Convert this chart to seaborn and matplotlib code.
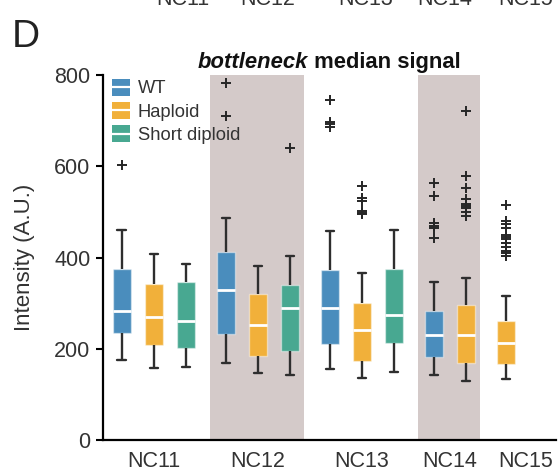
import numpy as np
import pandas as pd
import matplotlib
matplotlib.use("Agg")
import matplotlib.pyplot as plt
import seaborn as sns
from matplotlib.legend_handler import HandlerBase
from matplotlib.patches import Rectangle, Patch
from matplotlib.lines import Line2D

# ---------------- data ----------------
stages = ["NC11", "NC12", "NC13", "NC14", "NC15"]
genotypes = ["WT", "Haploid", "Short diploid"]
shaded_stages = ["NC12", "NC14"]

box_stage = ["NC11", "NC11", "NC11", "NC12", "NC12", "NC12",
             "NC13", "NC13", "NC13", "NC14", "NC14", "NC15"]
box_genotype = ["WT", "Haploid", "Short diploid", "WT", "Haploid", "Short diploid",
                "WT", "Haploid", "Short diploid", "WT", "Haploid", "Haploid"]
whisker_low = [175, 158, 160, 168, 146, 142, 155, 136, 149, 142, 130, 134]
quart1 = [235, 208, 202, 232, 184, 195, 210, 173, 212, 183, 168, 167]
median = [283, 270, 261, 329, 252, 290, 289, 241, 274, 231, 231, 213]
quart3 = [375, 342, 347, 412, 320, 340, 373, 301, 375, 283, 296, 261]
whisker_high = [460, 408, 386, 487, 381, 403, 458, 366, 461, 346, 354, 316]
outliers = [[603], [], [], [783, 711], [], [640],
            [746, 698, 692, 686],
            [557, 531, 524, 502, 498, 496],
            [],
            [564, 535, 475, 470, 464, 443],
            [722, 578, 553, 528, 517, 513, 509, 500, 492],
            [516, 480, 473, 464, 450, 445, 440, 431, 424, 415, 409, 404]]

title_italic = "bottleneck"
title_rest = " median signal"
ylabel = "Intensity (A.U.)"
yticks = [0, 200, 400, 600, 800]
panel_letter = "D"
# labels of the panel above, cut off by the top edge of the image
above_labels = ["NC11", "NC12", "NC13", "NC14", "NC15"]

# ---------------- styling ----------------
sns.set_style("ticks")
plt.rcParams["font.family"] = ["Liberation Sans", "DejaVu Sans"]

palette = {"WT": "#4a8dbd", "Haploid": "#f1b03a", "Short diploid": "#48a891"}
band_color = "#d4cac9"
text_color = "#333333"

# ---------------- layout of box positions ----------------
group_gap = 1.25
positions = []
group_ranges = {}
start = 0.0
for s in stages:
    idx = [i for i, b in enumerate(box_stage) if b == s]
    for k, i in enumerate(idx):
        positions.append((i, start + k))
    group_ranges[s] = (start, start + len(idx) - 1)
    start = start + len(idx) - 1 + group_gap
pos_of = dict(positions)

# reconstruct samples that reproduce the five-number summary
rows = []
for i in range(len(box_stage)):
    sample = ([whisker_low[i]] + [quart1[i]] * 20 + [median[i]] * 20 +
              [quart3[i]] * 20 + [whisker_high[i]] + list(outliers[i]))
    for v in sample:
        rows.append({"pos": pos_of[i], "genotype": box_genotype[i], "value": v})
df = pd.DataFrame(rows)

fig = plt.figure(figsize=(5.58, 4.75), dpi=100)
ax = fig.add_axes([103 / 558, 35 / 475, 453 / 558, 365 / 475])

for s in shaded_stages:
    a, b = group_ranges[s]
    ax.axvspan(a - 0.5, b + 0.45, color=band_color, lw=0, zorder=0)

sns.boxplot(data=df, x="pos", y="value", hue="genotype", hue_order=genotypes,
            palette=palette, native_scale=True, dodge=False, width=0.55,
            saturation=1, linewidth=1.7, legend=False, ax=ax,
            boxprops=dict(edgecolor=(1, 1, 1, 0.45), linewidth=1.0),
            medianprops=dict(color="white", linewidth=2.0),
            whiskerprops=dict(color="#2e2e2e"),
            capprops=dict(color="#2e2e2e"),
            flierprops=dict(marker="+", markeredgecolor="#262626",
                            markersize=7, markeredgewidth=1.4))

ax.set_xlim(-0.59, 13.56)
ax.set_ylim(0, 800)
ax.set_yticks(yticks)
ax.set_yticklabels([str(t) for t in yticks], fontsize=15.5, color=text_color)
tick_pos = [(group_ranges[s][0] + group_ranges[s][1]) / 2 for s in stages]
tick_pos[-1] += 0.6
ax.set_xticks(tick_pos)
ax.set_xticklabels(stages, fontsize=15.5, color=text_color)
ax.tick_params(axis="x", length=0, pad=8)
ax.tick_params(axis="y", length=5, width=1.5, pad=4, color="black")
ax.set_xlabel("")
ax.set_ylabel(ylabel, fontsize=16, color=text_color, labelpad=14)
for sp in ["top", "right"]:
    ax.spines[sp].set_visible(False)
for sp in ["left", "bottom"]:
    ax.spines[sp].set_linewidth(1.6)
    ax.spines[sp].set_color("black")


# legend with box-like handles
class BoxHandler(HandlerBase):
    def create_artists(self, legend, orig_handle, xdescent, ydescent,
                       width, height, fontsize, trans):
        r = Rectangle((-xdescent, -ydescent), width, height,
                      facecolor=orig_handle.get_facecolor(), edgecolor="none",
                      transform=trans)
        ln = Line2D([-xdescent, -xdescent + width],
                    [-ydescent + height / 2] * 2, color="white", lw=1.6,
                    transform=trans)
        return [r, ln]


handles = [Patch(facecolor=palette[g]) for g in genotypes]
leg = ax.legend(handles, genotypes, loc="upper left",
                bbox_to_anchor=(0.02, 0.99), frameon=False, fontsize=13.2,
                handler_map={Patch: BoxHandler()}, handlelength=1.0,
                handleheight=1.05, handletextpad=0.4, labelspacing=0.25,
                borderpad=0, borderaxespad=0)
for t in leg.get_texts():
    t.set_color(text_color)

# title: bold italic word + bold rest, centred over axes
fig.canvas.draw()
r = fig.canvas.get_renderer()
t1 = fig.text(0, 0, title_italic, fontsize=15.8, fontweight="bold",
              fontstyle="italic", color="#111111", va="baseline")
t2 = fig.text(0, 0, title_rest, fontsize=15.8, fontweight="bold",
              color="#111111", va="baseline")
w1 = t1.get_window_extent(r).width
w2 = t2.get_window_extent(r).width
xc = (103 + 556) / 2
x0 = xc - (w1 + w2) / 2
ybase = 1 - 68 / 475
t1.set_position((x0 / 558, ybase))
t2.set_position(((x0 + w1) / 558, ybase))

fig.text(12 / 558, 1 - 47 / 475, panel_letter, fontsize=28, color="#222222",
         va="baseline")

for lab, xpx in zip(above_labels, [183, 268, 366, 445, 526]):
    fig.text(xpx / 558, 1 - 5 / 475, lab, fontsize=15.5, color=text_color,
             ha="center", va="baseline")

fig.savefig("out.png", dpi=100)
